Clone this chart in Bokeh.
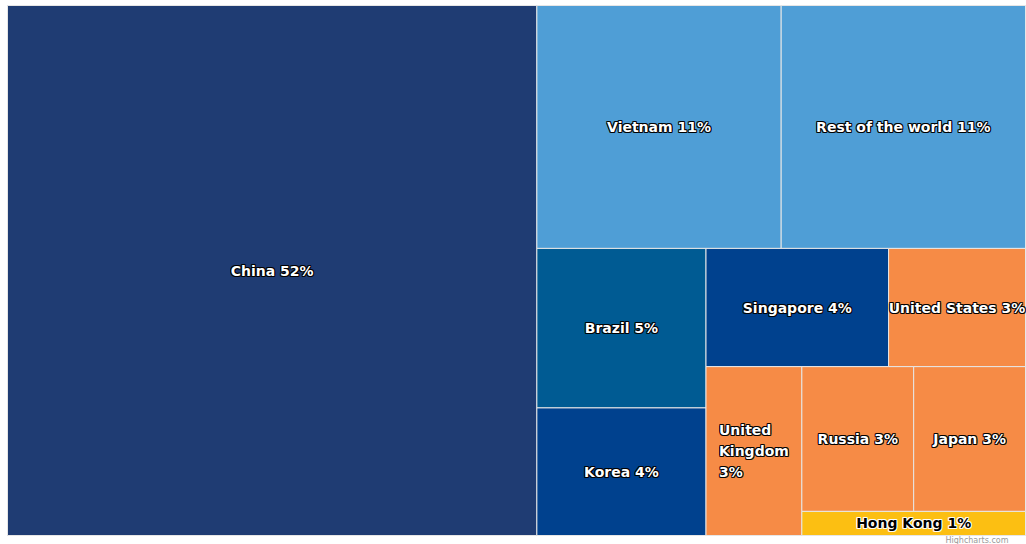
from bokeh.plotting import figure
from bokeh.models import Range1d, ColumnDataSource
from bokeh.core.properties import value
from bokeh.embed import file_html
from bokeh.resources import INLINE

# ---- data ----
names = ["China", "Vietnam", "Rest of the world", "Brazil", "Korea", "Singapore",
         "United States", "United Kingdom", "Russia", "Japan", "Hong Kong"]
shares = [52, 11, 11, 5, 4, 4, 3, 3, 3, 3, 1]

# ---- style ----
colors = ["#1f3c73", "#4f9ed6", "#4f9ed6", "#005b93", "#00418e", "#00418e",
          "#f68b46", "#f68b46", "#f68b46", "#f68b46", "#fcbf12"]
text_colors = ["#ffffff"] * 10 + ["#000000"]
outline_colors = ["#000000"] * 10 + ["#ffffff"]
FONT = "DejaVu Sans"
FS = 14
LINE_H = 21
W, H = 1026, 544
X0, Y0, TW, TH = 7, 5, 1018, 530

# DejaVu Sans Bold advance widths (em)
CW = {"U": .815, "n": .712, "i": .343, "t": .478, "e": .678, "d": .716, " ": .348,
      "S": .720, "a": .675, "s": .595, "3": .696, "%": 1.002, "K": .774, "g": .716,
      "o": .687, "m": 1.042, "C": .734, "h": .712, "5": .696, "2": .696, "1": .696,
      "V": .774, "R": .770, "f": .435, "w": .924, "r": .493, "l": .343, "B": .762,
      "z": .582, "4": .696, "p": .716, "J": .372, "H": .837, "k": .665, "u": .712}


def text_width(s):
    return sum(CW.get(c, .7) for c in s) * FS


def squarify(vals, x, y, w, h):
    total = float(sum(vals))
    areas = [v * w * h / total for v in vals]
    rects = []
    direction = 0 if w >= h else 1  # 0 = vertical strip on the left, 1 = row on top

    def worst(g, side):
        thick = sum(g) / side
        return max(max(thick / (a / thick), (a / thick) / thick) for a in g)

    i = 0
    while i < len(areas):
        side = h if direction == 0 else w
        group = [areas[i]]
        j = i + 1
        while j < len(areas) and worst(group + [areas[j]], side) <= worst(group, side):
            group.append(areas[j])
            j += 1
        thick = sum(group) / side
        pos = y if direction == 0 else x
        for a in group:
            length = a / thick
            if direction == 0:
                rects.append((x, pos, x + thick, pos + length))
            else:
                rects.append((pos, y, pos + length, y + thick))
            pos += length
        if direction == 0:
            x += thick
            w -= thick
        else:
            y += thick
            h -= thick
        direction = 1 - direction
        i = j
    return rects


rects = squarify(shares, X0, Y0, TW, TH)

src = ColumnDataSource(dict(
    left=[r[0] for r in rects], right=[r[2] for r in rects],
    top=[r[1] for r in rects], bottom=[r[3] for r in rects], color=colors))

p = figure(width=W, height=H, output_backend="svg", toolbar_location=None,
           x_range=Range1d(0, W), y_range=Range1d(H, 0), min_border=0,
           outline_line_color=None)
p.axis.visible = False
p.grid.visible = False
p.background_fill_color = "#ffffff"
p.border_fill_color = "#ffffff"

p.quad(left="left", right="right", top="top", bottom="bottom", source=src,
       fill_color="color", line_color="#e6e6e6", line_width=1)

# labels (word-wrapped when wider than the cell)
lx, ly, lt, lc, lo, la = [], [], [], [], [], []
for k, (name, v) in enumerate(zip(names, shares)):
    l, t, r, b = rects[k]
    cw = r - l
    label = f"{name} {round(v)}%"
    if text_width(label) <= cw:
        lines = [label]
    else:
        lines = []
        cur = ""
        for word in label.split(" "):
            trial = word if not cur else cur + " " + word
            if cur and text_width(trial) > cw:
                lines.append(cur)
                cur = word
            else:
                cur = trial
        lines.append(cur)
    cx, cy = (l + r) / 2, (t + b) / 2
    n = len(lines)
    if n == 1:
        lx.append(cx); ly.append(cy); lt.append(lines[0]); la.append("center")
        lc.append(text_colors[k]); lo.append(outline_colors[k])
    else:
        bw = max(text_width(s) for s in lines)
        for i, s in enumerate(lines):
            lx.append(cx - bw / 2); ly.append(cy + (i - (n - 1) / 2) * LINE_H)
            lt.append(s); la.append("left")
            lc.append(text_colors[k]); lo.append(outline_colors[k])

lsrc = ColumnDataSource(dict(x=lx, y=ly, text=lt, color=lc, outline=lo, align=la))
common = dict(x="x", y="y", text="text", source=lsrc, text_align="align",
              text_baseline="middle", text_font=value(FONT),
              text_font_style="bold", text_font_size=f"{FS}px")
# contrast halo underneath
for dx, dy in [(-1, 0), (1, 0), (0, -1), (0, 1), (-1, -1), (1, 1), (-1, 1), (1, -1)]:
    p.text(text_color="outline", x_offset=dx, y_offset=dy, text_alpha=0.85, **common)
# label fill on top
p.text(text_color="color", **common)

# credit
p.text(x=[945], y=[544], text=["Highcharts.com"], text_color="#999999",
       text_font=value("DejaVu Sans"), text_font_size="8px",
       text_align="left", text_baseline="bottom")

open("out.html", "w").write(file_html(p, INLINE))
